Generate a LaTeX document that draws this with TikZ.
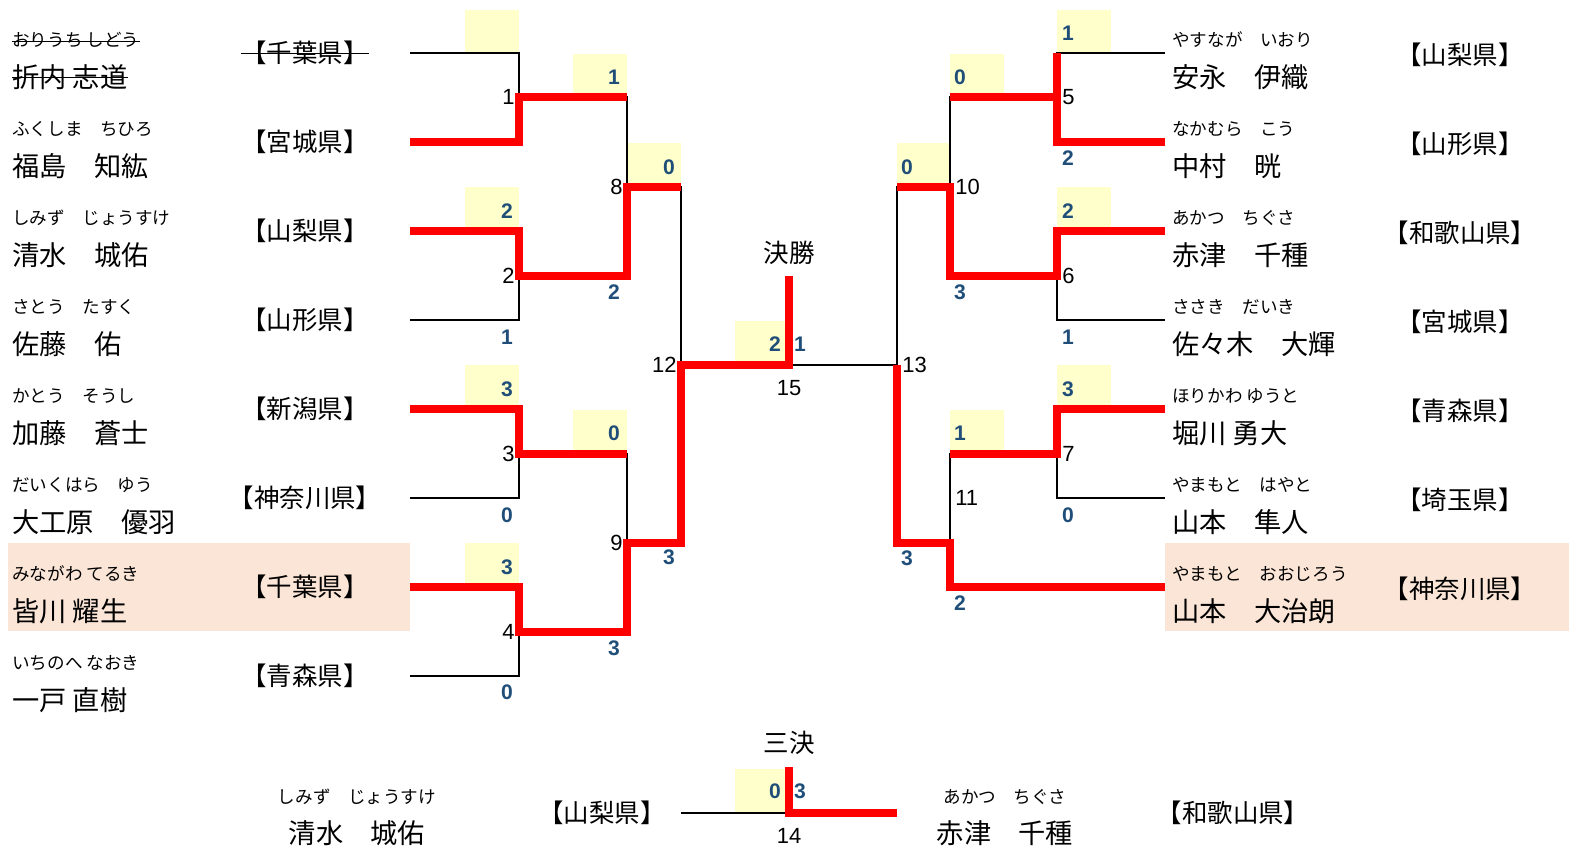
\documentclass[tikz,border=0pt]{standalone}
\usepackage{fontspec}
\setmainfont{Noto Sans CJK JP}
\newfontfamily\numfont{Liberation Sans}

\definecolor{winred}{RGB}{255,0,0}
\definecolor{boxyellow}{RGB}{255,255,204}
\definecolor{seedpeach}{RGB}{251,229,214}
\definecolor{scoreblue}{RGB}{31,78,121}

\tikzset{
  kana/.style={inner sep=0pt, font=\fontsize{10}{11}\selectfont},
  pname/.style={inner sep=0pt, font=\fontsize{15.5}{16}\selectfont},
  pref/.style={inner sep=0pt, font=\fontsize{14.5}{15}\selectfont},
  lose/.style={line width=1.4pt, black},
  win/.style={line width=4pt, winred},
  score/.style={inner sep=0pt, text=scoreblue, font=\numfont\bfseries\fontsize{12}{12}\selectfont},
  mnum/.style={inner sep=0pt, font=\numfont\fontsize{12.5}{13}\selectfont},
}

\begin{document}
\begin{tikzpicture}[x=0.02cm,y=-0.02cm]
            \useasboundingbox (0,0) rectangle (1569,855);

            % seeded players
            \fill[seedpeach] (8,543) rectangle (410,631);
            \fill[seedpeach] (1165,543) rectangle (1569,631);

            % yellow boxes: left side hang left of the line end, right side hang right
            \foreach \x/\y in {465/10,465/187,465/365,465/543,573/54,573/410,627/143,735/321,735/769,
                               1057/10,1057/187,1057/365,950/54,950/410,897/143}{
                    \fill[boxyellow] (\x,\y) rectangle ++(54,44);
                }

            % left half of the draw
            \foreach \k/\kana/\name/\pref in {0/おりうち しどう/折内 志道/【千葉県】,
                    1/ふくしま　ちひろ/福島　知紘/【宮城県】,
                    2/しみず　じょうすけ/清水　城佑/【山梨県】,
                    3/さとう　たすく/佐藤　佑/【山形県】,
                    4/かとう　そうし/加藤　蒼士/【新潟県】,
                    5/だいくはら　ゆう/大工原　優羽/【神奈川県】,
                    6/みながわ てるき/皆川 耀生/【千葉県】,
                    7/いちのへ なおき/一戸 直樹/【青森県】}{
                    \coordinate (L\k) at (410,{53+89*\k});                            % end of the player's line
                    \node[kana,anchor=west] (kanaL\k) at (12,{40+89*\k}) {\kana};
                    \node[pname,anchor=west] (nameL\k) at (12,{77+89*\k}) {\name};
                    \node[pref] (prefL\k) at (305,{53+89*\k}) {\pref};
                }
            % withdrawn player is struck out
            \draw[thin] ([yshift=-1pt]kanaL0.west) -- ([yshift=-1pt]kanaL0.east);
            \draw[thin] (nameL0.west) -- (nameL0.east);
            \draw[thin] (prefL0.west) -- (prefL0.east);

            % right half of the draw
            \foreach \k/\kana/\name/\pref in {0/やすなが　いおり/安永　伊織/【山梨県】,
                    1/なかむら　こう/中村　晄/【山形県】,
                    2/あかつ　ちぐさ/赤津　千種/【和歌山県】,
                    3/ささき　だいき/佐々木　大輝/【宮城県】,
                    4/ほりかわ ゆうと/堀川 勇大/【青森県】,
                    5/やまもと　はやと/山本　隼人/【埼玉県】,
                    6/やまもと　おおじろう/山本　大治朗/【神奈川県】}{
                    \coordinate (R\k) at (1165,{53+89*\k});
                    \node[kana,anchor=west] (kanaR\k) at (1172,{40+89*\k}) {\kana};
                    \node[pname,anchor=west] (nameR\k) at (1172,{77+89*\k}) {\name};
                    \node[pref] (prefR\k) at (1460,{55+89*\k}) {\pref};
                }

            % match points
            \coordinate (m1) at (519,97);   \coordinate (m2) at (519,276);
            \coordinate (m3) at (519,454);  \coordinate (m4) at (519,632);
            \coordinate (m8) at (627,187);  \coordinate (m9) at (627,543);
            \coordinate (m12) at (681,365); \coordinate (m15) at (789,365);
            \coordinate (t15) at (789,276);
            \coordinate (m5) at (1057,97);  \coordinate (m6) at (1057,276);
            \coordinate (m7) at (1057,454);
            \coordinate (m10) at (950,187); \coordinate (m11) at (950,543);
            \coordinate (m13) at (897,365);

            % bracket lines
            \draw[lose] (L0) -| (m1) |- (L1);
            \draw[lose] (L2) -| (m2) |- (L3);
            \draw[lose] (L4) -| (m3) |- (L5);
            \draw[lose] (L6) -| (m4) |- (L7);
            \draw[lose] (m1) -| (m8) |- (m2);
            \draw[lose] (m3) -| (m9) |- (m4);
            \draw[lose] (m8) -| (m12) |- (m9);
            \draw[lose] (m12) -- (m13);
            \draw[lose] (R0) -| (m5) |- (R1);
            \draw[lose] (R2) -| (m6) |- (R3);
            \draw[lose] (R4) -| (m7) |- (R5);
            \draw[lose] (m5) -| (m10) |- (m6);
            \draw[lose] (m7) -| (m11) |- (R6);
            \draw[lose] (m10) -| (m13) |- (m11);

            % winners' paths
            \draw[win] (L1) -| (m1) -- (m1 -| m8);
            \draw[win] (L2) -| (m2) -| (m8) -- (m8 -| m12);
            \draw[win] (L4) -| (m3) -- (m3 -| m9);
            \draw[win] (L6) -| (m4) -| (m9) -| (m12) -- (m15) -- (t15);
            \draw[win] (R0 -| m5) |- (R1);
            \draw[win] (m5) -- (m5 -| m10);
            \draw[win] (R2) -| (m6) -| (m10) -- (m10 -| m13);
            \draw[win] (R4) -| (m7) -- (m7 -| m11);
            \draw[win] (R6) -| (m11) -| (m13);

            % final
            \node[pref] (final) at (789,253) {決勝};
            % third place match
            \node[pref] (third) at (789,743) {三決};
            \coordinate (T1) at (681,813); \coordinate (m14) at (789,813);
            \coordinate (T2) at (897,813); \coordinate (t14) at (789,767);
            \draw[lose] (T1) -- (m14);
            \draw[win] (T2) -- (m14) -- (t14);
            \node[kana] (kanaT1) at (357,797) {しみず　じょうすけ};
            \node[pname] (nameT1) at (357,833) {清水　城佑};
            \node[pref] (prefT1) at (602,813) {【山梨県】};
            \node[kana] (kanaT2) at (1005,797) {あかつ　ちぐさ};
            \node[pname] (nameT2) at (1005,833) {赤津　千種};
            \node[pref] (prefT2) at (1233,813) {【和歌山県】};

            % match numbers
            \foreach \x/\y/\a/\t in {515/97/east/1,515/276/east/2,515/454/east/3,515/632/east/4,
                                     623/187/east/8,623/543/east/9,677/365/east/12,789/388/center/15,
                                     1062/97/west/5,1062/276/west/6,1062/454/west/7,
                                     955/187/west/10,955/498/west/11,902/365/west/13,789/836/center/14}{
                    \node[mnum,anchor=\a] (no\t) at (\x,\y) {\t};
                }

            % scores
            \foreach \x/\y/\s [count=\n] in {507/211/2,507/337/1,507/389/3,507/515/0,507/567/3,507/692/0,
                                             614/77/1,614/292/2,614/433/0,614/648/3,669/167/0,669/557/3,
                                             775/344/2,800/344/1,775/791/0,800/791/3,
                                             1068/33/1,1068/158/2,1068/211/2,1068/337/1,1068/389/3,1068/515/0,
                                             960/77/0,960/292/3,960/433/1,960/603/2,907/167/0,907/558/3}{
                    \node[score] (sc\n) at (\x,\y) {\s};
                }
        \end{tikzpicture}
\end{document}
